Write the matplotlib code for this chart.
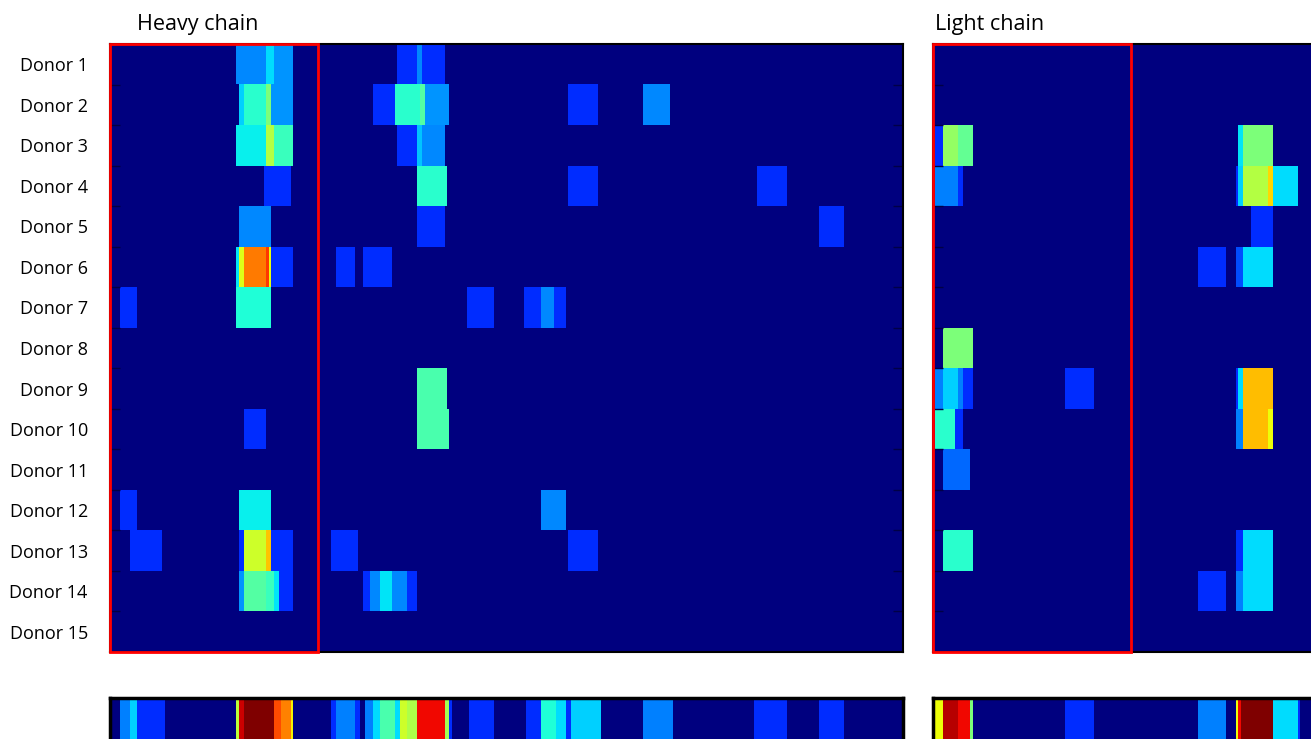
import numpy as np
import matplotlib.pyplot as plt
from matplotlib.patches import Rectangle

plt.rcParams['font.family'] = ['Open Sans', 'DejaVu Sans']

donors = [f"Donor {i}" for i in range(1, 16)]

# column grid of each chain and the boxed region at its start
n_heavy, n_light = 320, 160
heavy_box = (0, 84)
light_box = (0, 80)

# per donor: (first column, stop column, score 0..1)
heavy_hits = [
    [(51, 63, 0.26), (63, 66, 0.34), (66, 74, 0.27), (116, 124, 0.17), (124, 126, 0.26), (126, 135, 0.17)],
    [(52, 54, 0.33), (54, 63, 0.40), (63, 65, 0.50), (65, 74, 0.27), (106, 115, 0.17), (115, 125, 0.40),
     (125, 127, 0.45), (127, 137, 0.27), (185, 197, 0.17), (215, 226, 0.26)],
    [(51, 63, 0.36), (63, 66, 0.57), (66, 74, 0.42), (116, 124, 0.17), (124, 126, 0.32), (126, 135, 0.26)],
    [(62, 73, 0.17), (124, 136, 0.40), (185, 197, 0.17), (261, 273, 0.17)],
    [(52, 65, 0.26), (124, 135, 0.17), (286, 296, 0.17)],
    [(51, 52, 0.35), (52, 54, 0.62), (54, 63, 0.78), (63, 64, 0.85), (64, 65, 0.63), (65, 74, 0.17),
     (91, 99, 0.17), (102, 114, 0.17)],
    [(4, 11, 0.17), (51, 65, 0.39), (144, 155, 0.17), (167, 174, 0.17), (174, 179, 0.26), (179, 184, 0.17)],
    [],
    [(124, 136, 0.44)],
    [(54, 63, 0.17), (124, 137, 0.44)],
    [],
    [(4, 11, 0.17), (52, 65, 0.36), (174, 184, 0.26)],
    [(8, 21, 0.17), (52, 54, 0.17), (54, 63, 0.60), (63, 65, 0.70), (65, 74, 0.17), (89, 100, 0.17),
     (185, 197, 0.17)],
    [(52, 54, 0.27), (54, 63, 0.45), (63, 66, 0.42), (66, 68, 0.35), (68, 74, 0.17), (102, 105, 0.17),
     (105, 109, 0.26), (109, 114, 0.35), (114, 120, 0.26), (120, 124, 0.17)],
    [],
]

light_hits = [
    [],
    [],
    [(1, 4, 0.17), (4, 10, 0.53), (10, 16, 0.47), (123, 125, 0.35), (125, 137, 0.50)],
    [(1, 10, 0.25), (10, 12, 0.17), (122, 123, 0.17), (123, 125, 0.33), (125, 135, 0.57), (135, 137, 0.68),
     (137, 147, 0.34)],
    [(128, 137, 0.17)],
    [(107, 118, 0.17), (122, 125, 0.20), (125, 137, 0.34)],
    [],
    [(4, 16, 0.50)],
    [(1, 4, 0.25), (4, 10, 0.33), (10, 12, 0.25), (12, 16, 0.17), (53, 65, 0.17), (122, 123, 0.17),
     (123, 125, 0.34), (125, 137, 0.71)],
    [(1, 9, 0.40), (9, 12, 0.17), (122, 125, 0.25), (125, 135, 0.71), (135, 137, 0.64)],
    [(4, 15, 0.23)],
    [],
    [(4, 16, 0.40), (122, 125, 0.17), (125, 137, 0.34)],
    [(107, 118, 0.17), (122, 125, 0.25), (125, 137, 0.34)],
    [],
]

# pooled score over all donors
heavy_total = [
    (4, 8, 0.25), (8, 11, 0.33), (11, 22, 0.17), (51, 52, 0.58), (52, 54, 0.93), (54, 66, 1.00),
    (66, 69, 0.83), (69, 73, 0.77), (73, 74, 0.65), (89, 91, 0.17), (91, 99, 0.25), (99, 101, 0.17),
    (103, 106, 0.25), (106, 109, 0.34), (109, 115, 0.44), (115, 117, 0.34), (117, 120, 0.60),
    (120, 124, 0.56), (124, 135, 0.90), (135, 137, 0.55), (137, 138, 0.17), (145, 155, 0.17),
    (168, 174, 0.17), (174, 180, 0.39), (180, 184, 0.34), (184, 186, 0.17), (186, 198, 0.33),
    (215, 227, 0.25), (260, 273, 0.17), (286, 296, 0.17),
]

light_total = [
    (0, 4, 0.64), (4, 10, 0.95), (10, 15, 0.90), (15, 16, 0.50), (53, 65, 0.17), (107, 118, 0.25),
    (122, 123, 0.64), (123, 124, 0.90), (124, 137, 1.00), (137, 147, 0.34), (147, 148, 0.17),
]


def fill(rows, n):
    grid = np.zeros((len(rows), n))
    for i, row in enumerate(rows):
        for a, b, v in row:
            grid[i, a:b] = v
    return grid


W, H = 1311, 739
fig = plt.figure(figsize=(W / 100, H / 100), dpi=100)


def px_axes(x0, y0, x1, y1):
    return fig.add_axes([x0 / W, 1 - y1 / H, (x1 - x0) / W, (y1 - y0) / H])


def heat(ax, grid, n, box, title, labels):
    nrow = grid.shape[0]
    ax.imshow(grid, cmap='jet', vmin=0, vmax=1, aspect='auto', interpolation='nearest',
              extent=(0, n, nrow, 0))
    ax.set_xticks([])
    ax.set_yticks(np.arange(nrow) + 0.5)
    if labels:
        ax.set_yticklabels(donors, fontsize=13)
    else:
        ax.set_yticklabels([])
    ax.tick_params(axis='y', length=0, pad=16)
    ax.set_yticks(np.arange(1, nrow), minor=True)
    ax.tick_params(axis='y', which='minor', direction='in', length=7, width=1,
                   color='#000045', left=True, right=True)
    for s in ax.spines.values():
        s.set_linewidth(1.5)
    ax.add_patch(Rectangle((box[0], 0), box[1] - box[0], nrow, fill=False,
                           ec='red', lw=2, clip_on=False, zorder=5))
    ax.annotate(title, xy=(0, 1), xycoords='axes fraction', xytext=(27 if labels else 2, 14),
                textcoords='offset pixels', ha='left', va='baseline', fontsize=15.5)


def strip(ax, segs, n):
    ax.imshow(fill([segs], n), cmap='jet', vmin=0, vmax=1, aspect='auto',
              interpolation='nearest', extent=(0, n, 1, 0))
    ax.set_xticks([])
    ax.set_yticks([])
    for s in ax.spines.values():
        s.set_linewidth(2.5)


ax_h = px_axes(110, 44, 903, 652)
heat(ax_h, fill(heavy_hits, n_heavy), n_heavy, heavy_box, "Heavy chain", True)

ax_l = px_axes(932.7, 44, 1329, 652)
heat(ax_l, fill(light_hits, n_light), n_light, light_box, "Light chain", False)

strip(px_axes(110, 698, 903, 748), heavy_total, n_heavy)
strip(px_axes(932.7, 698, 1329, 748), light_total, n_light)

fig.savefig("out.png", dpi=100)
